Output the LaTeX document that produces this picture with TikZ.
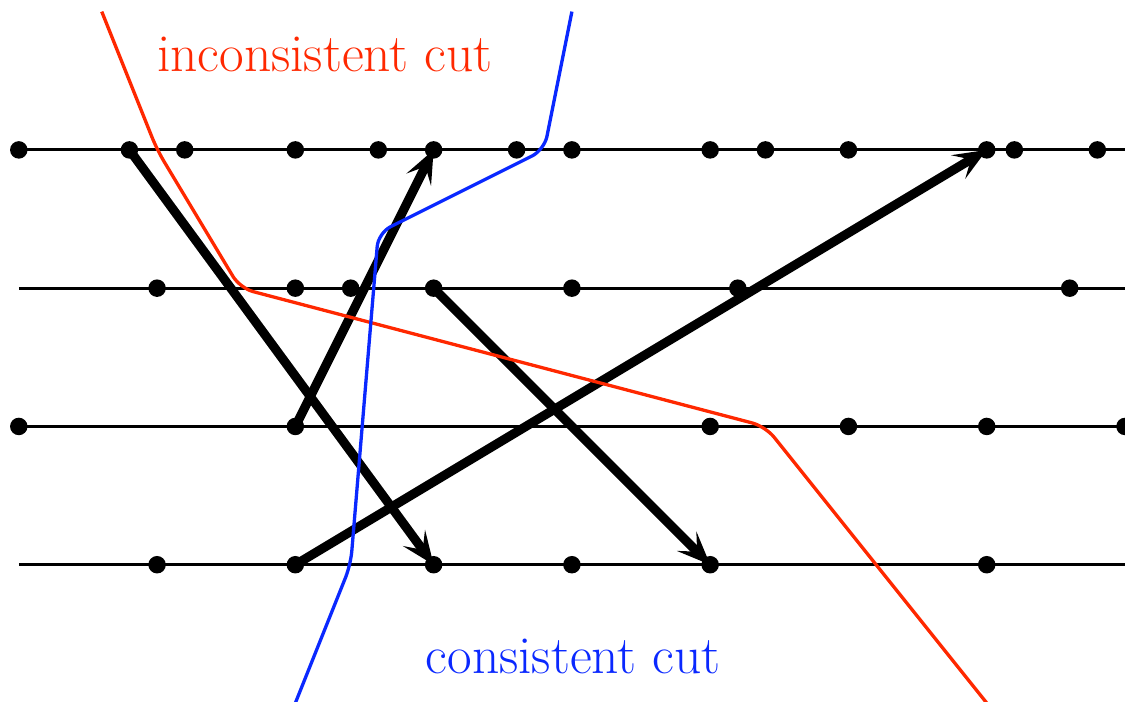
\documentclass[tikz,border=0pt]{standalone}
\usetikzlibrary{arrows.meta}
\definecolor{cutred}{RGB}{255,40,0}
\definecolor{cutblue}{RGB}{10,40,255}
\begin{document}
\begin{tikzpicture}[x=0.5cm,y=0.5cm,
  proc/.style={line width=1.5pt},
  dot/.style={circle,fill=black,inner sep=0pt,minimum size=9pt},
  msg/.style={line width=4.7pt,-{Stealth[length=17pt,width=14pt,inset=7.5pt]}},
  cut/.style={line width=1.7pt,rounded corners=7pt},
  lbl/.style={font=\fontsize{27.5}{33}\selectfont,anchor=base}]
\useasboundingbox (-0.68,-19.96) rectangle (40,5.42);
% process lines
\foreach \k/\y in {1/0,2/-5,3/-10,4/-15}{
  \coordinate (s\k) at (0,\y);
  \coordinate (e\k) at (40,\y);
  \draw[proc] (s\k) -- (e\k);
}
% events
\foreach \x in {0,4,6,10,13,15,18,20,25,27,30,35,36,39}
  \node[dot] (a\x) at (\x,0) {};
\foreach \x in {5,10,12,15,20,26,38}
  \node[dot] (b\x) at (\x,-5) {};
\foreach \x in {0,10,25,30,35,40}
  \node[dot] (c\x) at (\x,-10) {};
\foreach \x in {5,10,15,20,25,35}
  \node[dot] (d\x) at (\x,-15) {};
% messages
\draw[msg] (a4.center) -- (d15.center);
\draw[msg] (c10.center) -- (a15.center);
\draw[msg] (b15.center) -- (d25.center);
\draw[msg] (d10.center) -- (a35.center);
% cuts
\draw[cut,cutred] (3,5) -- (5,0) -- (8,-5) -- (27,-10) -- (35,-20);
\draw[cut,cutblue] (20,5) -- (19,0) -- (13,-3) -- (12,-15) -- (10,-20);
\node[lbl,text=cutred] (tin) at (11.07,2.83) {inconsistent cut};
\node[lbl,text=cutblue] (tcon) at (20.05,-18.92) {consistent cut};
\end{tikzpicture}
\end{document}
